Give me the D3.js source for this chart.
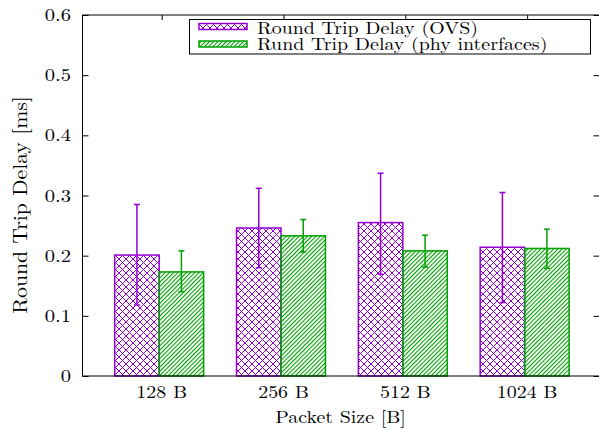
<!DOCTYPE html>
<html>
<head>
<meta charset="utf-8">
<script src="https://cdn.jsdelivr.net/npm/d3@7"></script>
<style>
  body { margin: 0; background: #fff; }
</style>
</head>
<body>
<div id="chart"></div>
<script>
// DATA
const categories = ["128 B", "256 B", "512 B", "1024 B"];
const ovsMean = [0.201, 0.246, 0.255, 0.214];
const ovsLow  = [0.118, 0.180, 0.169, 0.122];
const ovsHigh = [0.285, 0.312, 0.337, 0.305];
const phyMean = [0.173, 0.233, 0.208, 0.212];
const phyLow  = [0.140, 0.206, 0.181, 0.179];
const phyHigh = [0.208, 0.260, 0.234, 0.244];
const yTicks = [0, 0.1, 0.2, 0.3, 0.4, 0.5, 0.6];
const seriesNames = ["Round Trip Delay (OVS)", "Rund Trip Delay (phy interfaces)"];

const width = 599, height = 430;
const purple = "#9400d3", green = "#00a000";
const font = '"Latin Modern Roman"';
const sx = 1.14; // horizontal stretch of the text in the original picture

const svg = d3.select("#chart").append("svg")
    .attr("width", width).attr("height", height);

function label(sel) {
    return sel.style("font-family", font).attr("fill", "#000");
}

// PATTERNS
const defs = svg.append("defs");
const cross = defs.append("pattern").attr("id", "cross")
    .attr("patternUnits", "userSpaceOnUse").attr("width", 7).attr("height", 7);
cross.append("path").attr("d", "M0,0L7,7M7,0L0,7M-1,6L1,8M6,-1L8,1M-1,1L1,-1M6,8L8,6")
    .attr("stroke", purple).attr("stroke-width", 1).attr("fill", "none");
const hatch = defs.append("pattern").attr("id", "hatch")
    .attr("patternUnits", "userSpaceOnUse").attr("width", 3).attr("height", 10)
    .attr("patternTransform", "rotate(45)");
hatch.append("rect").attr("x", 0).attr("y", 0).attr("width", 1.1).attr("height", 10)
    .attr("fill", green);

// SCALES
const mLeft = 82.5, mRight = 599.5, mTop = 15, mBottom = 376;
const x = d3.scaleLinear().domain([-0.65, 3.594]).range([mLeft, mRight]);
const y = d3.scaleLinear().domain([0, 0.6]).range([mBottom, mTop]);
const bw = 0.365;

// AXES (ticks inward, mirrored)
const g = svg.append("g");
g.append("g").attr("transform", `translate(${mLeft},0)`)
    .call(d3.axisRight(y).tickValues(yTicks).tickSize(6).tickFormat(""))
    .call(a => a.select(".domain").remove());
g.append("g").attr("transform", `translate(${mRight},0)`)
    .call(d3.axisLeft(y).tickValues(yTicks).tickSize(6).tickFormat(""))
    .call(a => a.select(".domain").remove());
g.append("g").attr("transform", `translate(0,${mTop})`)
    .call(d3.axisBottom(x).tickValues(d3.range(categories.length)).tickSize(5).tickFormat(""))
    .call(a => a.select(".domain").remove());
g.selectAll(".tick line").attr("stroke", "#000");

// y tick labels
svg.append("g").selectAll("text").data(yTicks).join("text")
    .attr("transform", d => `translate(71,${y(d) + 6}) scale(${sx},1)`)
    .attr("text-anchor", "end").attr("font-size", 18)
    .call(label)
    .text(d => d === 0 ? "0" : d.toFixed(1));

// x tick labels
svg.append("g").selectAll("text").data(categories).join("text")
    .attr("transform", (d, i) => `translate(${x(i)},398) scale(${sx},1)`)
    .attr("text-anchor", "middle").attr("font-size", 17.5)
    .call(label)
    .text(d => d);

// axis titles
svg.append("text")
    .attr("transform", `translate(340.5,423) scale(${sx},1)`)
    .attr("text-anchor", "middle").attr("font-size", 17.5)
    .call(label)
    .text("Packet Size [B]");
svg.append("text")
    .attr("transform", "translate(27,205) rotate(-90) scale(1.085,1)")
    .attr("text-anchor", "middle").attr("font-size", 20)
    .call(label)
    .text("Round Trip Delay [ms]");

// BARS
function drawSeries(mean, low, high, offset, fill, color) {
    const s = svg.append("g");
    s.selectAll("rect").data(mean).join("rect")
        .attr("x", (d, i) => x(i + offset))
        .attr("width", x(bw) - x(0))
        .attr("y", d => y(d))
        .attr("height", d => y(0) - y(d))
        .attr("fill", fill).attr("stroke", color).attr("stroke-width", 1.5);
    const cx = i => x(i + offset + bw / 2);
    s.selectAll("line.err").data(mean).join("line").attr("class", "err")
        .attr("x1", (d, i) => cx(i)).attr("x2", (d, i) => cx(i))
        .attr("y1", (d, i) => y(low[i])).attr("y2", (d, i) => y(high[i]))
        .attr("stroke", color).attr("stroke-width", 1.5);
    [low, high].forEach(arr => {
        s.append("g").selectAll("line").data(arr).join("line")
            .attr("x1", (d, i) => cx(i) - 3).attr("x2", (d, i) => cx(i) + 3)
            .attr("y1", d => y(d)).attr("y2", d => y(d))
            .attr("stroke", color).attr("stroke-width", 1.5);
    });
}
drawSeries(ovsMean, ovsLow, ovsHigh, -0.3855, "url(#cross)", purple);
drawSeries(phyMean, phyLow, phyHigh, -0.0205, "url(#hatch)", green);

// FRAME
svg.append("rect")
    .attr("x", mLeft).attr("y", mTop)
    .attr("width", mRight - mLeft).attr("height", mBottom - mTop)
    .attr("fill", "none").attr("stroke", "#000").attr("stroke-width", 1);

// LEGEND
const legend = svg.append("g");
legend.append("rect")
    .attr("x", 189.5).attr("y", 19.5).attr("width", 401).attr("height", 34.5)
    .attr("fill", "#fff").attr("stroke", "#000").attr("stroke-width", 1);
const legendFills = ["url(#cross)", "url(#hatch)"];
const legendColors = [purple, green];
seriesNames.forEach((name, i) => {
    legend.append("rect")
        .attr("x", 199).attr("y", 23.5 + i * 17.5).attr("width", 48).attr("height", 6)
        .attr("fill", legendFills[i]).attr("stroke", legendColors[i]).attr("stroke-width", 1.5);
    legend.append("text")
        .attr("transform", `translate(257,${34 + i * 16}) scale(${sx},1)`)
        .attr("font-size", 17.5)
        .call(label)
        .text(name);
});
</script>
</body>
</html>
